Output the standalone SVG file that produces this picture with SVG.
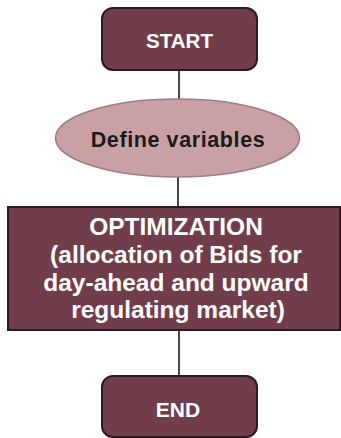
<svg xmlns="http://www.w3.org/2000/svg" width="341" height="438" viewBox="0 0 341 438">
<style>
.box{fill:#723d4b;stroke:#2b1a20;stroke-width:2}
.ell{fill:#c9a1a4;stroke:#a07c80;stroke-width:1.5}
.wt{fill:#ffffff;font-family:"Liberation Sans",Arial,sans-serif;font-weight:bold;text-anchor:middle}
.bt{fill:#1a1a1a;font-family:"Liberation Sans",Arial,sans-serif;font-weight:bold;text-anchor:middle}
.con{stroke:#4a4444;stroke-width:2;fill:none}
</style>
<rect width="341" height="438" fill="#ffffff"/>
<g id="connectors">
<line class="con" x1="179" y1="70" x2="179" y2="99"/>
<line class="con" x1="178" y1="177" x2="178" y2="207"/>
<line class="con" x1="179" y1="330" x2="179" y2="376"/>
</g>
<g id="start">
<rect class="box" x="102" y="8" width="155" height="62" rx="11"/>
<text class="wt" x="179.5" y="48" font-size="20.5">START</text>
</g>
<g id="define">
<ellipse class="ell" cx="177.5" cy="138" rx="122" ry="39"/>
<text class="bt" x="178" y="146.5" font-size="21.5" letter-spacing="0.6">Define variables</text>
</g>
<g id="optimization">
<rect class="box" x="8" y="207" width="332" height="123"/>
<text class="wt" font-size="24.5"><tspan x="176" y="235">OPTIMIZATION</tspan><tspan x="176" y="263">(allocation of Bids for</tspan><tspan x="176" y="291">day-ahead and upward</tspan><tspan x="178" y="318">regulating market)</tspan></text>
</g>
<g id="end">
<rect class="box" x="102" y="376" width="155" height="61" rx="11"/>
<text class="wt" x="178" y="417" font-size="21">END</text>
</g>
</svg>
